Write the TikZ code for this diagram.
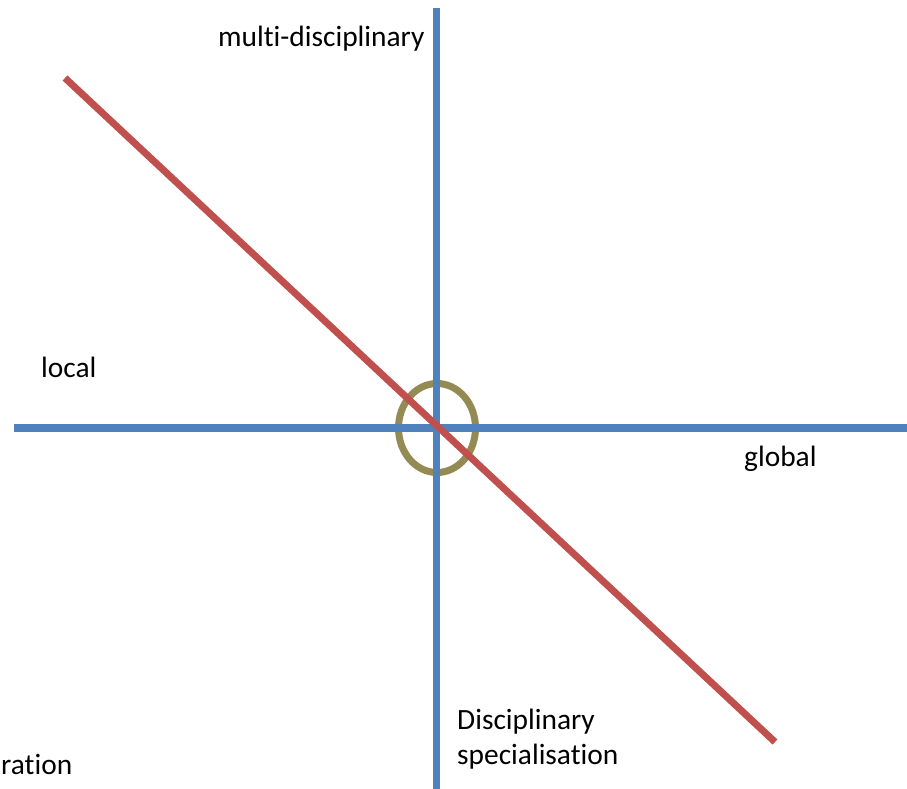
\documentclass[tikz,border=0pt]{standalone}
\usepackage{fontspec}
\setmainfont{Carlito}[Ligatures=CommonOff]
\definecolor{axisblue}{HTML}{4F81BD}
\definecolor{diagred}{HTML}{C0504D}
\definecolor{olive}{HTML}{948A54}
\begin{document}
\begin{tikzpicture}[x=1pt,y=-1pt,
  axis/.style={draw=axisblue,line width=7.5pt},
  diag/.style={draw=diagred,line width=7pt},
  ring/.style={draw=olive,line width=7pt},
  lbl/.style={inner sep=0pt,anchor=base west,font=\fontsize{29.4}{35}\selectfont}]
\useasboundingbox (0,0) rectangle (907,789);
\clip (0,0) rectangle (907,789);
\coordinate (vtop) at (436.5,8);
\coordinate (vbot) at (436.5,795);
\coordinate (hleft) at (14,428);
\coordinate (hright) at (912,428);
\coordinate (dtop) at (65,78);
\coordinate (dbot) at (775,742);
\coordinate (ctr) at (437,428);
\draw[ring] (ctr) ellipse [x radius=38.5, y radius=44.5];
\draw[axis] (vtop) -- (vbot);
\draw[axis] (hleft) -- (hright);
\draw[diag] (dtop) -- (dbot);
\node[lbl] (multi) at (218,47) {multi-disciplinary};
\node[lbl] (local) at (41,377) {local};
\node[lbl] (global) at (744,466) {global};
\node[lbl] (disc) at (457,729) {Disciplinary};
\node[lbl] (spec) at (457,764) {specialisation};
\node[lbl] (ration) at (1,774) {ration};
\end{tikzpicture}
\end{document}
